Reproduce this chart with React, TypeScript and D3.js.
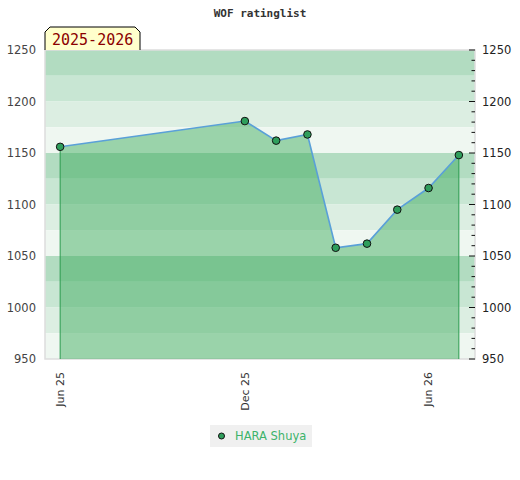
import React from "react";
import * as d3 from "d3";

const title = "WOF ratinglist";
const seasonLabel = "2025-2026";
const seriesName = "HARA Shuya";
const dates = ["2025-06-01", "2025-12-01", "2026-01-01", "2026-02-01", "2026-03-01", "2026-04-01", "2026-05-01", "2026-06-01", "2026-07-01"];
const ratings = [1156, 1181, 1162, 1168, 1058, 1062, 1095, 1116, 1148];
const xTicks = ["2025-06-01", "2025-12-01", "2026-06-01"];
const yTicks = [950, 1000, 1050, 1100, 1150, 1200, 1250];
const bandColors = ["#b2dcc1", "#c8e6d3", "#dceee2", "#eff7f1"];

const W = 520, H = 480;
const L = 45, R = 475, T = 50, B = 359;

export default function App() {
  const parse = d3.utcParse("%Y-%m-%d");
  const pts = dates.map((d, i) => ({ d: parse(d)!, v: ratings[i] }));
  const x = d3.scaleUtc()
    .domain([parse("2025-05-17")!, parse("2026-07-17")!])
    .range([L, R]);
  const y = d3.scaleLinear().domain([950, 1250]).range([B, T]);
  const fmt = d3.utcFormat("%b %y");

  const bands: { y0: number; y1: number; c: string }[] = [];
  for (let v = 1250, i = 0; v > 950; v -= 25, i++) {
    bands.push({ y0: y(v), y1: y(v - 25), c: bandColors[i % 4] });
  }
  const minor = d3.range(950, 1251, 10);

  const area = d3.area<{ d: Date; v: number }>()
    .x(p => x(p.d)).y0(B).y1(p => y(p.v));
  const line = d3.line<{ d: Date; v: number }>()
    .x(p => x(p.d)).y(p => y(p.v));

  const first = pts[0], last = pts[pts.length - 1];

  return (
    <svg width={W} height={H} style={{ display: "block", position: "absolute", left: 0, top: 0 }}>
      <rect width={W} height={H} fill="#fff" />
      <text x={260} y={17} textAnchor="middle" fontFamily="'DejaVu Sans Mono', monospace" fontWeight="bold" fontSize={11} fill="#333">{title}</text>
      {bands.map((b, i) => (
        <rect key={i} x={L} y={b.y0} width={R - L} height={b.y1 - b.y0} fill={b.c} />
      ))}
      <rect x={L} y={T} width={R - L} height={B - T} fill="none" stroke="#dddddd" strokeWidth={1.5} />
      <path d={area(pts)!} fill="rgb(50,166,84)" fillOpacity={0.45} />
      <line x1={x(first.d)} x2={x(first.d)} y1={y(first.v)} y2={B} stroke="#2b9a4e" strokeWidth={1} />
      <line x1={x(last.d)} x2={x(last.d)} y1={y(last.v)} y2={B} stroke="#2b9a4e" strokeWidth={1} />
      <path d={line(pts)!} fill="none" stroke="#5aa0d8" strokeWidth={1.6} />
      {pts.map((p, i) => (
        <circle key={i} cx={x(p.d)} cy={y(p.v)} r={3.8} fill="#2f9e5c" stroke="#111" strokeWidth={1} />
      ))}
      {minor.map(v => (
        <line key={v} x1={v % 50 === 0 ? R - 6 : R - 3.5} x2={R} y1={y(v)} y2={y(v)} stroke="#111" strokeWidth={1} />
      ))}
      {yTicks.map(v => (
        <g key={v}>
          <text x={36} y={y(v)} dy="0.35em" textAnchor="end" fontFamily="'DejaVu Sans', sans-serif" fontSize={11.5} fill="#444">{v}</text>
          <text x={482} y={y(v)} dy="0.35em" textAnchor="start" fontFamily="'DejaVu Sans', sans-serif" fontSize={11.5} fill="#222">{v}</text>
        </g>
      ))}
      {xTicks.map(t => {
        const d = parse(t)!;
        return (
          <text key={t} transform={`translate(${x(d)},372) rotate(-90)`} dy="0.35em" textAnchor="end" fontFamily="'DejaVu Sans', sans-serif" fontSize={11} fill="#333">{fmt(d)}</text>
        );
      })}
      <path d={`M45,50 L45,32 L50,27 L135,27 L140,32 L140,50`} fill="#ffffcc" stroke="#000" strokeWidth={1} />
      <text x={52} y={45} fontFamily="'DejaVu Sans Mono', monospace" fontSize={15} fill="#8b0000">{seasonLabel}</text>
      <rect x={210} y={425} width={102} height={22} fill="#f0f0f0" />
      <circle cx={221.5} cy={436} r={3} fill="#2f9e5c" stroke="#111" strokeWidth={1} />
      <text x={235} y={436} dy="0.35em" fontFamily="'DejaVu Sans', sans-serif" fontSize={11.5} fill="#3cb36a">{seriesName}</text>
    </svg>
  );
}
